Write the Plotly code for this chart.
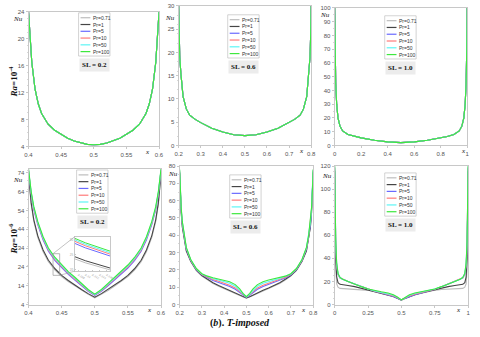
import plotly.graph_objects as go

W, H = 480, 337

PR_LABELS = ["Pr=0.71", "Pr=1", "Pr=5", "Pr=10", "Pr=50", "Pr=100"]
PR_COLORS = ["#bdbdbd", "#454545", "#6a6aff", "#ff7a7a", "#5cf5f5", "#3ee83e"]
SL_LABELS = ["SL = 0.2", "SL = 0.6", "SL = 1.0"]

# --- Ra = 10^4 row: all Pr curves collapse onto one line ---
X_A = [0.4, 0.402, 0.405, 0.41, 0.415, 0.42, 0.43, 0.44, 0.45, 0.46, 0.47, 0.48, 0.49, 0.5,
       0.51, 0.52, 0.53, 0.54, 0.55, 0.56, 0.57, 0.58, 0.585, 0.59, 0.595, 0.598, 0.6]
NU_A = [24, 20.5, 16.5, 12.5, 10.3, 8.9, 7.3, 6.4, 5.8, 5.2, 4.8, 4.5, 4.3, 4.25,
        4.3, 4.5, 4.8, 5.2, 5.8, 6.4, 7.3, 8.9, 10.3, 12.5, 16.5, 20.5, 24]

X_B = [0.2, 0.202, 0.205, 0.21, 0.22, 0.235, 0.25, 0.275, 0.3, 0.35, 0.4, 0.45, 0.5,
       0.55, 0.6, 0.65, 0.7, 0.725, 0.75, 0.765, 0.78, 0.79, 0.795, 0.798, 0.8]
NU_B = [30, 24, 19, 15.5, 10.5, 7.8, 6.5, 5.6, 4.9, 3.7, 2.9, 2.3, 2.1,
        2.3, 2.9, 3.7, 4.9, 5.6, 6.5, 7.8, 10.5, 15.5, 19, 24, 30]

X_C = [0, 0.003, 0.008, 0.015, 0.025, 0.04, 0.06, 0.1, 0.15, 0.2, 0.3, 0.4, 0.5,
       0.6, 0.7, 0.8, 0.85, 0.9, 0.94, 0.96, 0.975, 0.985, 0.992, 0.997, 1]
NU_C = [100, 70, 45, 30, 20, 14, 10.5, 8, 6.5, 5.5, 3.8, 2.6, 2.0,
        2.6, 3.8, 5.5, 6.5, 8, 10.5, 14, 20, 30, 45, 70, 100]

# --- Ra = 10^6 row: order follows PR_LABELS ---
X_D = [0.4, 0.404, 0.408, 0.414, 0.422, 0.43, 0.44, 0.45, 0.46, 0.47, 0.48, 0.49, 0.5,
       0.51, 0.52, 0.53, 0.54, 0.55, 0.56, 0.57, 0.578, 0.586, 0.592, 0.596, 0.6]
NU_D = [
    [73, 57, 48, 39.5, 32, 26.7, 22.3, 18.9, 16.2, 13.8, 11.5, 9.4, 7.6,
     9.4, 11.5, 13.8, 16.2, 18.9, 22.3, 26.7, 32, 39.5, 48, 57, 73],
    [73.5, 58, 49, 40.5, 33, 27.5, 23, 19.5, 16.8, 14.3, 12, 9.8, 7.9,
     9.8, 12, 14.3, 16.8, 19.5, 23, 27.5, 33, 40.5, 49, 58, 73.5],
    [75, 62.5, 54.3, 46.3, 38.3, 32.3, 27.3, 23.4, 20, 17, 14, 11, 8.9,
     11, 14, 17, 20, 23.4, 27.3, 32.3, 38.3, 46.3, 54.3, 62.5, 75],
    [75.3, 63, 55, 47, 39, 33, 28, 24, 20.5, 17.5, 14.4, 11.4, 9.1,
     11.4, 14.4, 17.5, 20.5, 24, 28, 33, 39, 47, 55, 63, 75.3],
    [75.7, 63.6, 55.5, 47.5, 39.5, 33.5, 28.5, 24.5, 21, 18, 14.8, 11.7, 9.3,
     11.7, 14.8, 18, 21, 24.5, 28.5, 33.5, 39.5, 47.5, 55.5, 63.6, 75.7],
    [76, 64, 56, 48, 40, 34, 29, 25, 21.5, 18.5, 15.2, 12, 9.5,
     12, 15.2, 18.5, 21.5, 25, 29, 34, 40, 48, 56, 64, 76],
]

X_E = [0.2, 0.203, 0.207, 0.212, 0.22, 0.23, 0.25, 0.275, 0.3, 0.325, 0.35, 0.375, 0.4,
       0.425, 0.45, 0.47, 0.485, 0.5, 0.515, 0.53, 0.55, 0.575, 0.6, 0.625, 0.65, 0.675,
       0.7, 0.725, 0.75, 0.77, 0.78, 0.788, 0.793, 0.797, 0.8]
NU_E = [
    [75.5, 62.5, 52.5, 44.5, 37.6, 30.7, 24.7, 19.6, 16.5, 14.2, 12.2, 10.5, 9, 7.8, 6.4, 5.2, 4.3, 3.7,
     4.3, 5.2, 6.4, 7.8, 9, 10.5, 12.2, 14.2, 16.5, 19.6, 24.7, 30.7, 37.6, 44.5, 52.5, 62.5, 75.5],
    [76, 63, 53, 45, 38, 31, 25, 19.8, 16.8, 14.6, 12.6, 11, 9.5, 8.2, 6.8, 5.5, 4.5, 3.8,
     4.5, 5.5, 6.8, 8.2, 9.5, 11, 12.6, 14.6, 16.8, 19.8, 25, 31, 38, 45, 53, 63, 76],
    [76.5, 64.5, 54.5, 46.5, 39, 32, 25.4, 20.2, 17.2, 15.3, 13.9, 12.7, 11.6, 10.4, 8.8, 7, 5.4, 4.2,
     5.4, 7, 8.8, 10.4, 11.6, 12.7, 13.9, 15.3, 17.2, 20.2, 25.4, 32, 39, 46.5, 54.5, 64.5, 76.5],
    [77, 65, 55, 47, 39.3, 32.4, 25.6, 20.4, 17.4, 15.7, 14.4, 13.4, 12.4, 11.2, 9.6, 7.6, 5.7, 4.3,
     5.7, 7.6, 9.6, 11.2, 12.4, 13.4, 14.4, 15.7, 17.4, 20.4, 25.6, 32.4, 39.3, 47, 55, 65, 77],
    [77.5, 65.5, 55.5, 47.5, 39.7, 32.7, 25.8, 20.6, 17.6, 16.1, 15, 14.2, 13.4, 12.3, 10.6, 8.3, 6.1, 4.4,
     6.1, 8.3, 10.6, 12.3, 13.4, 14.2, 15, 16.1, 17.6, 20.6, 25.8, 32.7, 39.7, 47.5, 55.5, 65.5, 77.5],
    [78, 66, 56, 48, 40, 33, 26, 20.8, 17.8, 16.4, 15.5, 14.8, 14.2, 13.2, 11.5, 9, 6.5, 4.5,
     6.5, 9, 11.5, 13.2, 14.2, 14.8, 15.5, 16.4, 17.8, 20.8, 26, 33, 40, 48, 56, 66, 78],
]

X_F = [0, 0.003, 0.008, 0.015, 0.025, 0.04, 0.06, 0.1, 0.15, 0.2, 0.25, 0.3, 0.35, 0.4,
       0.44, 0.47, 0.49, 0.5, 0.51, 0.53, 0.56, 0.6, 0.65, 0.7, 0.75, 0.8, 0.85, 0.9,
       0.94, 0.96, 0.975, 0.985, 0.992, 0.997, 1]
NU_F = [
    [115, 60, 30, 18, 15, 14, 13.8, 13.7, 13.5, 13, 12.3, 11.2, 9.8, 8.3, 6.8, 5.3, 4.3, 3.7,
     4.3, 5.3, 6.8, 8.3, 9.8, 11.2, 12.3, 13, 13.5, 13.7, 13.8, 14, 15, 18, 30, 60, 115],
    [116, 70, 40, 24, 19, 17.5, 17, 16.5, 15.5, 14, 13, 11.5, 10, 8.5, 7, 5.5, 4.5, 3.8,
     4.5, 5.5, 7, 8.5, 10, 11.5, 13, 14, 15.5, 16.5, 17, 17.5, 19, 24, 40, 70, 116],
    [118, 80, 50, 33, 26, 23, 21.8, 20, 17.8, 15.5, 13.3, 11.5, 10, 8.5, 7, 5.5, 4.5, 4,
     4.5, 5.5, 7, 8.5, 10, 11.5, 13.3, 15.5, 17.8, 20, 21.8, 23, 26, 33, 50, 80, 118],
    [119, 82, 52, 34, 26.4, 23.2, 21.9, 20, 17.7, 15.5, 13.3, 11.6, 10.3, 9, 7.5, 5.8, 4.6, 4,
     4.6, 5.8, 7.5, 9, 10.3, 11.6, 13.3, 15.5, 17.7, 20, 21.9, 23.2, 26.4, 34, 52, 82, 119],
    [119.5, 84, 54, 35.5, 26.8, 23.4, 21.9, 20, 17.6, 15.5, 13.4, 11.8, 10.7, 9.6, 8.1, 6.2, 4.7, 4,
     4.7, 6.2, 8.1, 9.6, 10.7, 11.8, 13.4, 15.5, 17.6, 20, 21.9, 23.4, 26.8, 35.5, 54, 84, 119.5],
    [120, 85, 55, 36, 27, 23.5, 22, 20, 17.5, 15.5, 13.5, 12, 11, 10, 8.5, 6.5, 4.8, 4,
     4.8, 6.5, 8.5, 10, 11, 12, 13.5, 15.5, 17.5, 20, 22, 23.5, 27, 36, 55, 85, 120],
]

# inset window on the Ra=10^6, SL=0.2 panel
INSET_X = [0.437, 0.447]
INSET_Y = [19.5, 31]


def pxx(x):
    return x / W


def pxy(y):
    return 1 - y / H


# pixel boxes (left, right, top, bottom) and per-panel styling
PANELS = [
    dict(box=(25, 158, 9, 146), x=X_A, ys=[NU_A] * 6, xr=[0.4, 0.6], yr=[4, 24],
         xt=[0.4, 0.45, 0.5, 0.55, 0.6], yt=[4, 8, 12, 16, 20, 24],
         leg=(76, 10), nu=(14, 16), xl=0.915, sl=SL_LABELS[0]),
    dict(box=(178, 313, 3, 145), x=X_B, ys=[NU_B] * 6, xr=[0.2, 0.8], yr=[0, 30],
         xt=[0.2, 0.3, 0.4, 0.5, 0.6, 0.7, 0.8], yt=[0, 5, 10, 15, 20, 25, 30],
         leg=(228, 12), nu=(169, 15), xl=0.93, sl=SL_LABELS[1]),
    dict(box=(337, 472, 5, 145), x=X_C, ys=[NU_C] * 6, xr=[0, 1], yr=[0, 100],
         xt=[0, 0.2, 0.4, 0.6, 0.8, 1], yt=list(range(0, 101, 10)),
         leg=(388, 13), nu=(327, 12.5), xl=0.97, sl=SL_LABELS[2]),
    dict(box=(25, 160, 169, 307), x=X_D, ys=NU_D, xr=[0.4, 0.6], yr=[4, 76],
         xt=[0.4, 0.45, 0.5, 0.55, 0.6], yt=[4, 14, 24, 34, 44, 54, 64, 74],
         leg=(74, 170), nu=(14, 180), xl=0.91, sl=SL_LABELS[0]),
    dict(box=(179, 315, 166, 307), x=X_E, ys=NU_E, xr=[0.2, 0.8], yr=[0, 80],
         xt=[0.2, 0.3, 0.4, 0.5, 0.6, 0.7, 0.8], yt=list(range(0, 81, 10)),
         leg=(230, 175), nu=(172, 174), xl=0.93, sl=SL_LABELS[1]),
    dict(box=(337, 473, 166, 307), x=X_F, ys=NU_F, xr=[0, 1], yr=[0, 120],
         xt=[0, 0.25, 0.5, 0.75, 1], yt=list(range(0, 121, 20)),
         leg=(388, 173), nu=(329, 176), xl=0.93, sl=SL_LABELS[2]),
]

TICKFONT = dict(family="Liberation Sans, Arial, sans-serif", size=6, color="#555555")
SERIF = "Liberation Serif, Times New Roman, serif"

fig = go.Figure()
layout = {}
shapes = []
annotations = []

for i, p in enumerate(PANELS, start=1):
    sx = "" if i == 1 else str(i)
    l, r, t, b = p["box"]
    layout["xaxis" + sx] = dict(
        domain=[pxx(l), pxx(r)], range=p["xr"], anchor="y" + sx,
        tickmode="array", tickvals=p["xt"], tickfont=TICKFONT,
        showline=True, mirror=True, linecolor="#c8c8c8", linewidth=1,
        ticks="outside", ticklen=2, tickcolor="#c8c8c8", showgrid=False, zeroline=False,
    )
    layout["yaxis" + sx] = dict(
        domain=[pxy(b), pxy(t)], range=p["yr"], anchor="x" + sx,
        tickmode="array", tickvals=p["yt"], tickfont=TICKFONT,
        showline=True, mirror=True, linecolor="#c8c8c8", linewidth=1,
        ticks="outside", ticklen=2, tickcolor="#c8c8c8", showgrid=False, zeroline=False,
        minor=dict(ticks="outside", ticklen=1, tickcolor="#d8d8d8", nticks=5),
    )
    for k, lab in enumerate(PR_LABELS):
        fig.add_trace(go.Scatter(
            x=p["x"], y=p["ys"][k], mode="lines", name=lab, showlegend=False,
            line=dict(color=PR_COLORS[k], width=1.1),
            xaxis="x" + sx, yaxis="y" + sx,
        ))

    # hand-made legend box (plotly legends cannot be packed this tight)
    lx, ly = p["leg"]
    shapes.append(dict(type="rect", xref="paper", yref="paper",
                       x0=pxx(lx), x1=pxx(lx + 32), y0=pxy(ly + 44), y1=pxy(ly),
                       line=dict(color="#b5b5b5", width=0.6), fillcolor="white", layer="above"))
    for k, lab in enumerate(PR_LABELS):
        yy = ly + 5 + k * 6.9
        shapes.append(dict(type="line", xref="paper", yref="paper",
                           x0=pxx(lx + 2), x1=pxx(lx + 12), y0=pxy(yy), y1=pxy(yy),
                           line=dict(color=PR_COLORS[k], width=1.2), layer="above"))
        annotations.append(dict(xref="paper", yref="paper", x=pxx(lx + 13), y=pxy(yy),
                                text=lab, showarrow=False, xanchor="left", yanchor="middle",
                                font=dict(family="Liberation Sans, Arial", size=5, color="#333333")))
    annotations.append(dict(xref="paper", yref="paper", x=pxx(lx + 16), y=pxy(ly + 53),
                            text="<b>%s</b>" % p["sl"], showarrow=False,
                            xanchor="center", yanchor="middle", bgcolor="#ececec", borderpad=2,
                            font=dict(family=SERIF, size=7, color="#111111")))
    nx, ny = p["nu"]
    annotations.append(dict(xref="paper", yref="paper", x=pxx(nx), y=pxy(ny),
                            text="<i>Nu</i>", showarrow=False, xanchor="center", yanchor="middle",
                            font=dict(family=SERIF, size=7, color="#111111")))
    annotations.append(dict(xref="x%s domain" % sx, yref="paper", x=p["xl"], y=pxy(b + 6),
                            text="<i>x</i>", showarrow=False, xanchor="center", yanchor="middle",
                            font=dict(family=SERIF, size=7, color="#111111")))

# inset axes on panel 4
IL, IR, IT, IB = 72, 108, 238, 273
layout["xaxis7"] = dict(domain=[pxx(IL), pxx(IR)], range=INSET_X, anchor="y7",
                        showline=True, mirror=True, linecolor="#c8c8c8", linewidth=0.8,
                        ticks="inside", ticklen=1, tickcolor="#c8c8c8", nticks=6,
                        tickfont=dict(size=3, color="#999999"), showgrid=False, zeroline=False)
layout["yaxis7"] = dict(domain=[pxy(IB), pxy(IT)], range=INSET_Y, anchor="x7",
                        showline=True, mirror=True, linecolor="#c8c8c8", linewidth=0.8,
                        ticks="inside", ticklen=1, tickcolor="#c8c8c8", nticks=4,
                        tickfont=dict(size=3, color="#999999"), showgrid=False, zeroline=False)
for k, lab in enumerate(PR_LABELS):
    fig.add_trace(go.Scatter(x=X_D, y=NU_D[k], mode="lines", showlegend=False,
                             line=dict(color=PR_COLORS[k], width=1), xaxis="x7", yaxis="y7"))

shapes.append(dict(type="rect", xref="x4", yref="y4", x0=INSET_X[0], x1=INSET_X[1],
                   y0=INSET_Y[0], y1=INSET_Y[1], line=dict(color="#9a9a9a", width=0.7)))
# connectors from the zoom rectangle to the inset
p4 = PANELS[3]
l4, r4, t4, b4 = p4["box"]


def d2px(xv, yv):
    fx = (xv - p4["xr"][0]) / (p4["xr"][1] - p4["xr"][0])
    fy = (yv - p4["yr"][0]) / (p4["yr"][1] - p4["yr"][0])
    return l4 + fx * (r4 - l4), b4 - fy * (b4 - t4)


for (xv, yv), (tx, ty) in [((INSET_X[0], INSET_Y[1]), (IL, IT)), ((INSET_X[1], INSET_Y[0]), (IL, IB))]:
    sx0, sy0 = d2px(xv, yv)
    shapes.append(dict(type="line", xref="paper", yref="paper",
                       x0=pxx(sx0), y0=pxy(sy0), x1=pxx(tx), y1=pxy(ty),
                       line=dict(color="#9a9a9a", width=0.6)))

# row labels and caption
for text, yy in [("<b><i>Ra</i>=10<sup>-4</sup></b>", 80), ("<b><i>Ra</i>=10<sup>-6</sup></b>", 240)]:
    annotations.append(dict(xref="paper", yref="paper", x=pxx(9), y=pxy(yy), text=text,
                            textangle=-90, showarrow=False, xanchor="center", yanchor="middle",
                            font=dict(family=SERIF, size=9, color="#111111")))
annotations.append(dict(xref="paper", yref="paper", x=pxx(240), y=pxy(326),
                        text="<b>(<i>b</i>). <i>T-imposed</i></b>", showarrow=False,
                        xanchor="center", yanchor="middle",
                        font=dict(family=SERIF, size=10, color="#111111")))

fig.update_layout(
    width=W, height=H,
    margin=dict(l=0, r=0, t=0, b=0),
    paper_bgcolor="white", plot_bgcolor="white",
    showlegend=False,
    shapes=shapes, annotations=annotations,
    **layout,
)

# the page body has a default 8px margin; drop it so the figure sits at the window origin
fig.write_html("out.html", config={"displayModeBar": False},
               post_script="document.body.style.margin='0px';")
